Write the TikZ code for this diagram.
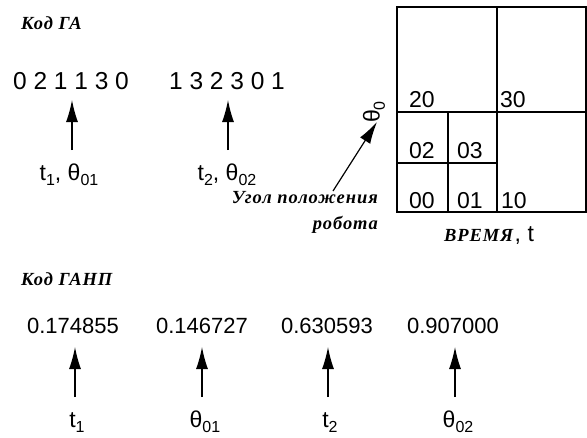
\documentclass[tikz,border=0pt]{standalone}
\usepackage{fontspec}
\setmainfont{Liberation Sans}
\newfontfamily\serbi[LetterSpace=5]{Liberation Serif}
\usetikzlibrary{arrows.meta}
\newcommand\lbsub[1]{\raisebox{-0.45ex}{\fontsize{16}{16}\selectfont #1}}
\tikzset{
  big/.style={font=\fontsize{23}{23}\selectfont, inner sep=0pt},
  code/.style={font=\fontsize{24.5}{24.5}\selectfont, inner sep=0pt},
  num/.style={font=\fontsize{22}{22}\selectfont, inner sep=0pt},
  head/.style={font=\serbi\bfseries\itshape\fontsize{18.5}{18.5}\selectfont, inner sep=0pt},
  arr/.style={line width=1.2pt, -{Latex[length=22pt,width=12pt]}},
  gridl/.style={line width=1.4pt}
}
\begin{document}
\begin{tikzpicture}[x=1pt,y=-1pt]
\useasboundingbox (0,0) rectangle (587,437);
% --- Код ГА
\node[head, anchor=base west] (hga) at (21,29) {Код ГА};
\node[code, anchor=base] (c1) at (71,89) {0 2 1 1 3 0};
\node[code, anchor=base] (c2) at (227,89) {1 3 2 3 0 1};
\coordinate (a1s) at (72,150); \coordinate (a1e) at (72,100);
\coordinate (a2s) at (228,150); \coordinate (a2e) at (228,100);
\draw[arr] (a1s) -- (a1e);
\draw[arr] (a2s) -- (a2e);
\node[big, anchor=base] (l1) at (69,180) {t\lbsub{1}, θ\lbsub{01}};
\node[big, anchor=base] (l2) at (227,180) {t\lbsub{2}, θ\lbsub{02}};
% --- grid
\draw[gridl] (397,7) rectangle (586,212);
\draw[gridl] (397,112) -- (586,112);
\draw[gridl] (497,7) -- (497,212);
\draw[gridl] (448,112) -- (448,212);
\draw[gridl] (397,163) -- (497,163);
\node[big, anchor=base west] (g20) at (409,107) {20};
\node[big, anchor=base west] (g30) at (500,107) {30};
\node[big, anchor=base west] (g02) at (409,158) {02};
\node[big, anchor=base west] (g03) at (457,158) {03};
\node[big, anchor=base west] (g00) at (409,208) {00};
\node[big, anchor=base west] (g01) at (457,208) {01};
\node[big, anchor=base west] (g10) at (501,208) {10};
\node[big, rotate=90] (th0) at (374,112) {θ\lbsub{0}};
\node[head, anchor=base east] (ang1) at (378,203) {Угол положения};
\node[head, anchor=base east] (ang2) at (378,229) {робота};
\coordinate (as) at (333,191); \coordinate (ae) at (377,122);
\draw[arr] (as) -- (ae);
\node[anchor=base west, inner sep=0pt] (time) at (444,241) {{\serbi\bfseries\itshape\fontsize{18.5}{18.5}\selectfont ВРЕМЯ}\,{\fontsize{23}{23}\selectfont, t}};
% --- Код ГАНП
\node[head, anchor=base west] (hganp) at (21,285) {Код ГАНП};
\node[num, anchor=base] (n1) at (73,333) {0.174855};
\node[num, anchor=base] (n2) at (202,333) {0.146727};
\node[num, anchor=base] (n3) at (327,333) {0.630593};
\node[num, anchor=base] (n4) at (453,333) {0.907000};
\foreach \i/\x in {1/75,2/202,3/328,4/455}{
  \coordinate (b\i s) at (\x,397); \coordinate (b\i e) at (\x,347);
  \draw[arr] (b\i s) -- (b\i e);
}
\node[big, anchor=base] (m1) at (77,427) {t\lbsub{1}};
\node[big, anchor=base] (m2) at (205,427) {θ\lbsub{01}};
\node[big, anchor=base] (m3) at (330,427) {t\lbsub{2}};
\node[big, anchor=base] (m4) at (458,427) {θ\lbsub{02}};
\end{tikzpicture}
\end{document}
